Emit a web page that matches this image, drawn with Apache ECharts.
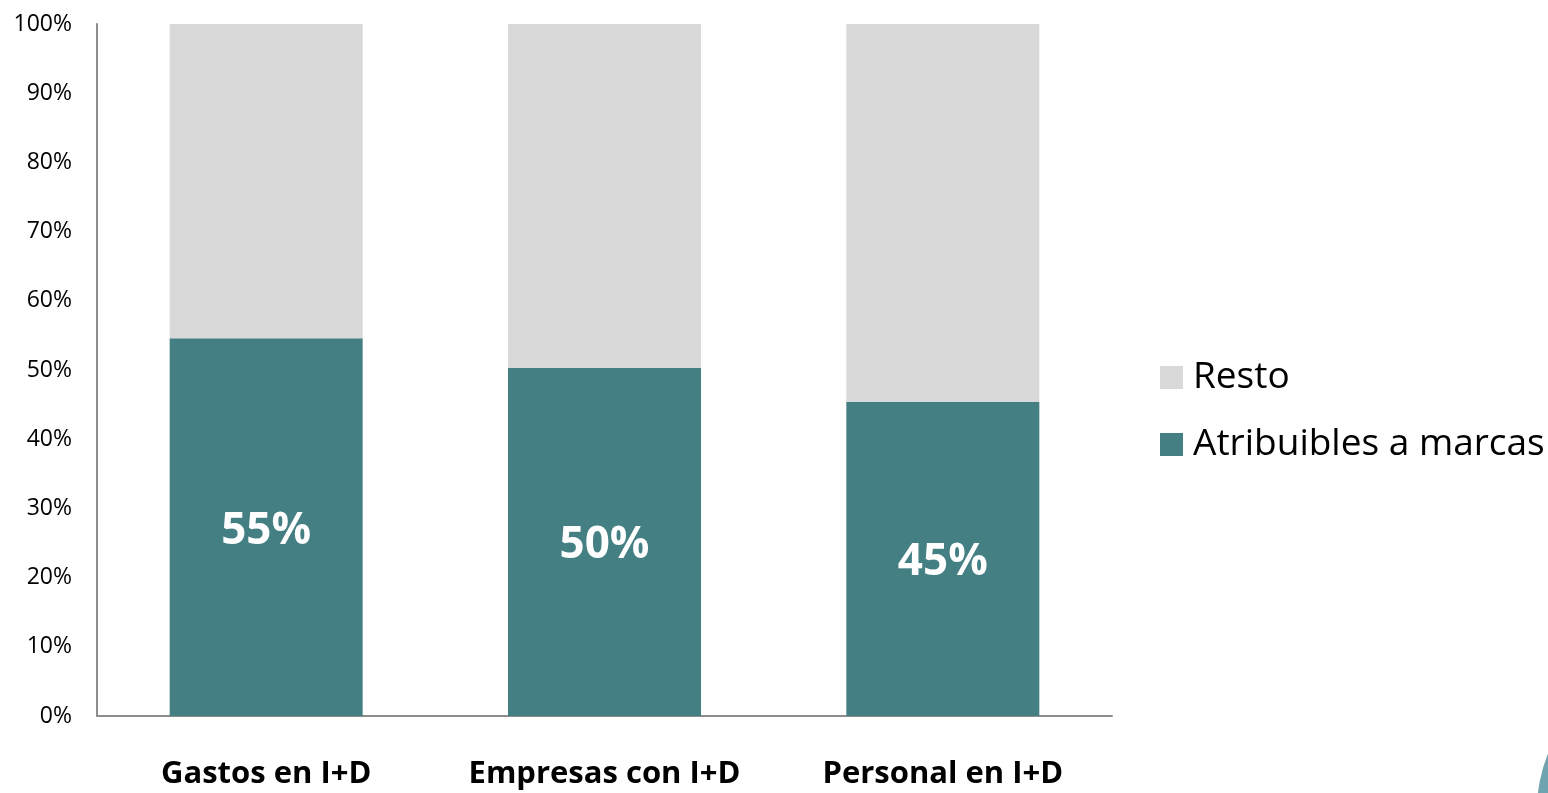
<!DOCTYPE html>
<html><head><meta charset="utf-8">
<script src="https://cdn.jsdelivr.net/npm/echarts@6/dist/echarts.min.js"></script>
<style>html,body{margin:0;padding:0;background:#fff}#c{width:1548px;height:793px}</style>
</head><body><div id="c"></div>
<script>
const categories = ['Gastos en I+D', 'Empresas con I+D', 'Personal en I+D'];
const atribuibles = [54.6, 50.3, 45.4];
const resto = [45.4, 49.7, 54.6];
const yTicks = [0, 10, 20, 30, 40, 50, 60, 70, 80, 90, 100];

const font = '"Open Sans", "Noto Sans", sans-serif';
const chart = echarts.init(document.getElementById('c'));
chart.setOption({
  animation: false,
  textStyle: { fontFamily: font },
  grid: { left: 97, right: 436, top: 24, bottom: 77 },
  legend: {
    orient: 'vertical', left: 1160, top: 359, padding: 0,
    itemWidth: 23, itemHeight: 23, itemGap: 30,
    data: ['Resto', 'Atribuibles a marcas'],
    textStyle: { fontSize: 37, color: '#000', fontFamily: font, padding: [0, 0, 0, 5] },
    icon: 'rect'
  },
  xAxis: {
    type: 'category', data: categories,
    axisLine: { lineStyle: { color: '#8c8c8c', width: 2 } },
    axisTick: { show: false },
    axisLabel: { interval: 0, fontSize: 31, fontWeight: 'bold', color: '#000', margin: 43 }
  },
  yAxis: {
    type: 'value', min: 0, max: 100, interval: 10,
    axisLine: { show: true, lineStyle: { color: '#8c8c8c', width: 2 } },
    axisTick: { show: false },
    splitLine: { show: false },
    axisLabel: { fontSize: 23, color: '#000', margin: 25,
      formatter: v => yTicks.includes(v) ? v + '%' : '' }
  },
  series: [
    { name: 'Atribuibles a marcas', type: 'bar', stack: 'a', data: atribuibles,
      barWidth: 193, itemStyle: { color: '#447F84' },
      label: { show: true, position: 'inside', color: '#fff', fontSize: 44, fontWeight: 'bold',
        offset: [0, 4], formatter: p => Math.round(p.value) + '%' } },
    { name: 'Resto', type: 'bar', stack: 'a', data: resto,
      barWidth: 193, itemStyle: { color: '#D9D9D9' } }
  ],
  graphic: [
    { type: 'circle', shape: { cx: 1687, cy: 810, r: 150 }, style: { fill: '#6FA3B0' }, silent: true }
  ]
});
</script></body></html>
